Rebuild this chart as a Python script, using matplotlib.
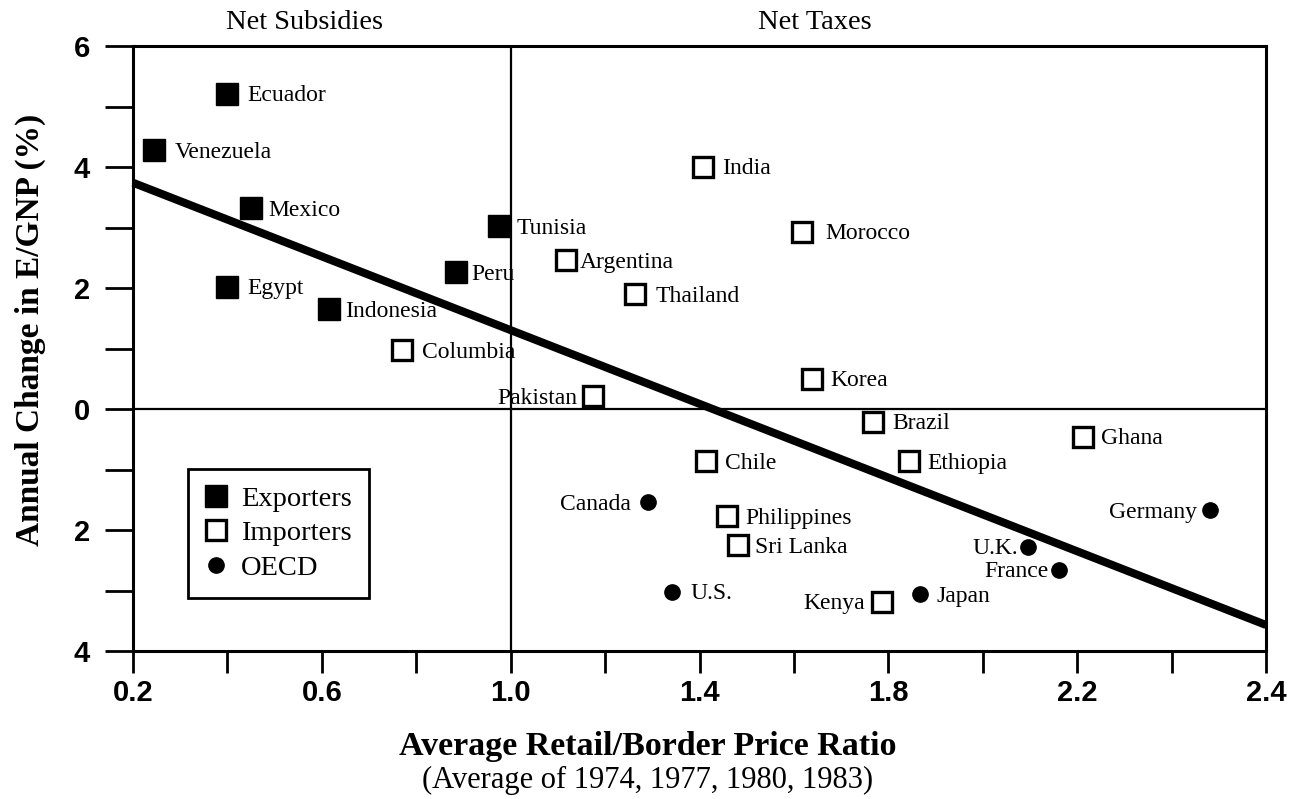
import matplotlib
matplotlib.use('Agg')
import matplotlib.pyplot as plt
from matplotlib.lines import Line2D

# ---------------- data ----------------
exp_names = ['Ecuador', 'Venezuela', 'Mexico', 'Egypt', 'Indonesia', 'Peru', 'Tunisia']
exp_x = [0.40, 0.245, 0.45, 0.40, 0.615, 0.885, 0.975]
exp_y = [5.21, 4.28, 3.32, 2.02, 1.65, 2.26, 3.02]

imp_names = ['Columbia', 'India', 'Argentina', 'Thailand', 'Morocco', 'Korea', 'Pakistan',
             'Brazil', 'Ghana', 'Chile', 'Ethiopia', 'Philippines', 'Sri Lanka', 'Kenya']
imp_x = [0.77, 1.408, 1.117, 1.264, 1.617, 1.639, 1.175,
         1.768, 2.213, 1.414, 1.844, 1.458, 1.482, 1.787]
imp_y = [0.975, 4.0, 2.46, 1.90, 2.93, 0.50, 0.21,
         -0.21, -0.46, -0.86, -0.86, -1.77, -2.25, -3.19]

oecd_names = ['Canada', 'U.S.', 'Japan', 'U.K.', 'France', 'Germany']
oecd_x = [1.291, 1.342, 1.867, 2.096, 2.162, 2.482]
oecd_y = [-1.54, -3.02, -3.06, -2.28, -2.66, -1.67]

fit_x = [0.2, 2.6]
fit_y = [3.74, -3.57]

x_tick_vals = [0.2, 0.6, 1.0, 1.4, 1.8, 2.2, 2.6]
x_tick_labels = ['0.2', '0.6', '1.0', '1.4', '1.8', '2.2', '2.4']
x_minor_vals = [0.4, 0.8, 1.2, 1.6, 2.0, 2.4]
y_tick_vals = [-4, -2, 0, 2, 4, 6]
y_tick_labels = ['4', '2', '0', '2', '4', '6']
y_minor_vals = [-3, -1, 1, 3, 5]

legend_labels = ['Exporters', 'Importers', 'OECD']
region_labels = ['Net Subsidies', 'Net Taxes']
xlabel_main = 'Average Retail/Border Price Ratio'
xlabel_sub = '(Average of 1974, 1977, 1980, 1983)'
ylabel = 'Annual Change in E/GNP (%)'

# ---------------- layout / style ----------------
SERIF = ['Liberation Serif', 'DejaVu Serif']
SANS = ['Liberation Sans', 'DejaVu Sans']
left_side = {'Pakistan': -16, 'Canada': -17, 'Kenya': -17, 'U.K.': -10,
             'France': -11, 'Germany': -13}
right_dx = {'Ecuador': 20, 'Venezuela': 20, 'Mexico': 17, 'Egypt': 20, 'Indonesia': 16,
            'Peru': 15, 'Tunisia': 18, 'Columbia': 20, 'India': 19, 'Argentina': 14,
            'Thailand': 20, 'Morocco': 23, 'Korea': 18, 'Brazil': 19, 'Ghana': 18,
            'Chile': 19, 'Ethiopia': 18, 'Philippines': 18, 'Sri Lanka': 17,
            'U.S.': 18, 'Japan': 17}

fig = plt.figure(figsize=(12.96, 7.99), dpi=100)
ax = fig.add_axes([133 / 1296, 1 - 651 / 799, (1266 - 133) / 1296, (651 - 46) / 799])
ax.set_xlim(0.2, 2.6)
ax.set_ylim(-4, 6)

for s in ax.spines.values():
    s.set_linewidth(2.2)

ax.axvline(1.0, color='black', lw=1.6, zorder=1)
ax.axhline(0.0, color='black', lw=1.6, zorder=1)
ax.plot(fit_x, fit_y, color='black', lw=5.8, solid_capstyle='butt', zorder=2, clip_on=False)

ax.plot(exp_x, exp_y, ls='none', marker='s', ms=15.5, mfc='black', mec='black', zorder=3)
ax.plot(imp_x, imp_y, ls='none', marker='s', ms=14, mfc='white', mec='black', mew=2.4, zorder=3)
ax.plot(oecd_x, oecd_y, ls='none', marker='o', ms=11, mfc='black', mec='black', zorder=3)

def px2pt(v):
    return v * 72 / 100

for names, xs, ys in [(exp_names, exp_x, exp_y), (imp_names, imp_x, imp_y),
                      (oecd_names, oecd_x, oecd_y)]:
    for n, x, y in zip(names, xs, ys):
        if n in left_side:
            dx, ha = left_side[n], 'right'
        else:
            dx, ha = right_dx.get(n, 18), 'left'
        ax.annotate(n, (x, y), xytext=(px2pt(dx), px2pt(-2)), textcoords='offset points',
                    ha=ha, va='center', fontsize=17, family=SERIF, zorder=4)

ax.set_xticks(x_tick_vals)
ax.set_xticklabels(x_tick_labels)
ax.set_xticks(x_minor_vals, minor=True)
ax.set_yticks(y_tick_vals)
ax.set_yticklabels(y_tick_labels)
ax.set_yticks(y_minor_vals, minor=True)
ax.tick_params(axis='x', which='both', direction='out', length=16, width=2, pad=4)
ax.tick_params(axis='y', which='both', direction='out', length=20, width=2, pad=11)
for lab in ax.get_xticklabels() + ax.get_yticklabels():
    lab.set_family(SANS)
    lab.set_fontweight('bold')
    lab.set_fontsize(21)

# region titles
ax.text(0.564, 6.18, region_labels[0], ha='center', va='bottom', fontsize=20.5, family=SERIF)
ax.text(1.645, 6.18, region_labels[1], ha='center', va='bottom', fontsize=20.5, family=SERIF)

# axis labels
fig.text(648 / 1296, 1 - 747 / 799, xlabel_main, ha='center', va='center',
         fontsize=24.5, fontweight='bold', family=SERIF)
fig.text(648 / 1296, 1 - 780 / 799, xlabel_sub, ha='center', va='center',
         fontsize=22, family=SERIF)
fig.text(30 / 1296, 1 - 330 / 799, ylabel, ha='center', va='center', rotation=90,
         fontsize=24, fontweight='bold', family=SERIF)

# legend
handles = [Line2D([], [], ls='none', marker='s', ms=16, mfc='black', mec='black'),
           Line2D([], [], ls='none', marker='s', ms=14.5, mfc='white', mec='black', mew=2.4),
           Line2D([], [], ls='none', marker='o', ms=11, mfc='black', mec='black')]
leg = ax.legend(handles, legend_labels, loc='lower left',
                bbox_to_anchor=((188 - 133) / 1133, (651 - 598) / 605),
                frameon=True, fancybox=False, edgecolor='black', framealpha=1,
                prop={'family': SERIF, 'size': 20.5}, handlelength=0.8, handletextpad=0.45,
                borderpad=0.6, labelspacing=0.3, borderaxespad=0)
leg.get_frame().set_linewidth(2)

fig.savefig('out.png', dpi=100)
